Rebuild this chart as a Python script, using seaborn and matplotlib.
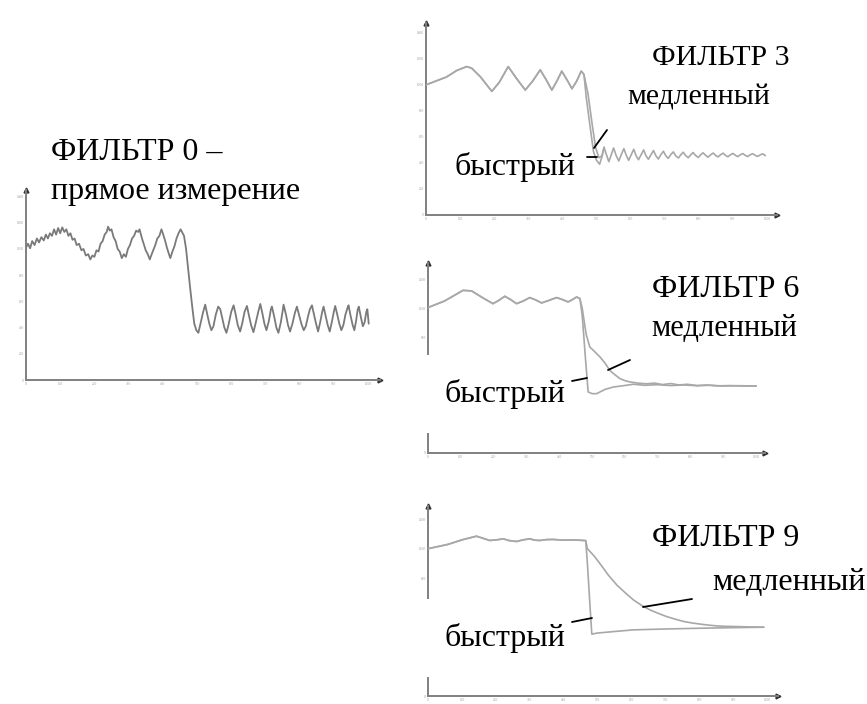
import numpy as np
import pandas as pd
import matplotlib
matplotlib.use("Agg")
import matplotlib.pyplot as plt
from matplotlib.lines import Line2D
import seaborn as sns

# ---- data ----
# filter 0: raw measurement
raw_x = [0, 6, 12, 18, 25, 32, 38, 45, 52, 58, 64, 70, 76, 82, 88, 94, 100, 106, 112, 118,
         124, 130, 136, 142, 148, 155, 162, 168, 175, 182, 188, 194, 200, 206, 212, 218, 224,
         230, 236, 240, 245, 250, 256, 262, 268, 274, 280, 286, 292, 298, 304, 310, 316, 322,
         328, 332, 338, 344, 350, 356, 362, 366, 372, 378, 384, 390, 396, 400, 406, 412, 418,
         422, 428, 434, 440, 446, 452, 456, 462, 468, 474, 480, 486, 492, 498, 504, 512, 518,
         524, 530, 536, 542, 548, 555, 562, 568, 574, 580, 586, 592, 600, 607, 613, 619, 626,
         632, 639, 646, 652, 658, 665, 672, 679, 685, 691, 697, 703, 710, 716, 719, 726, 732,
         738, 745, 750, 753, 760, 766, 772, 779, 786, 792, 798, 805, 812, 818, 825, 830, 836,
         842, 848, 854, 860, 866, 870, 876, 882, 888, 894, 900, 904, 910, 916, 922, 928, 934,
         940, 943, 949, 955, 960, 965, 970, 973, 979, 985, 990, 995, 998, 1002]
raw_y = [1010, 1040, 1005, 1060, 1030, 1080, 1050, 1090, 1065, 1110, 1080, 1120, 1100, 1150,
         1110, 1160, 1120, 1165, 1130, 1150, 1100, 1120, 1070, 1080, 1030, 1040, 990, 1000, 950,
         960, 920, 950, 940, 990, 980, 1040, 1060, 1110, 1130, 1170, 1140, 1150, 1090, 1060,
         1000, 980, 930, 960, 940, 1000, 1030, 1080, 1100, 1140, 1130, 1150, 1090, 1040, 990,
         960, 920, 950, 990, 1030, 1080, 1100, 1150, 1120, 1070, 1010, 960, 930, 980, 1020,
         1080, 1120, 1150, 1130, 1100, 1000, 850, 700, 560, 430, 380, 360, 450, 520, 575, 500,
         430, 380, 410, 500, 560, 540, 470, 400, 360, 420, 520, 570, 500, 420, 370, 430, 520,
         565, 490, 420, 365, 440, 520, 580, 510, 430, 380, 450, 540, 560, 480, 400, 360, 440,
         520, 575, 500, 420, 370, 430, 510, 560, 500, 430, 380, 410, 490, 540, 570, 500, 430,
         370, 440, 520, 560, 490, 420, 370, 440, 520, 565, 500, 430, 380, 420, 500, 550, 570,
         490, 420, 380, 450, 540, 560, 480, 410, 440, 520, 540, 430]

# filter 3
f3_pre_x = [0, 30, 60, 90, 119, 134, 160, 193, 215, 241, 265, 291, 313, 335, 352, 369, 384,
            398, 413, 428, 442, 455, 463]
f3_pre_y = [1000, 1030, 1060, 1110, 1140, 1128, 1060, 950, 1020, 1140, 1050, 960, 1030, 1115,
            1040, 960, 1030, 1105, 1040, 970, 1030, 1105, 1080]
f3_fast_x = [470, 480, 491, 500, 509, 516, 522, 528, 536, 544, 550, 557, 565, 572, 580, 587,
             594, 602, 609, 616, 623, 631, 638, 645, 652, 660, 667, 674, 681, 689, 696, 703,
             710, 718, 725, 732, 740, 747, 754, 761, 769, 776, 783, 790, 798, 805, 812, 820,
             827, 834, 842, 849, 856, 863, 871, 878, 885, 892, 900, 907, 914, 921, 929, 936,
             943, 950, 958, 965, 972, 980, 987, 995]
f3_fast_y = [900, 700, 487, 420, 390, 450, 520, 470, 410, 470, 515, 460, 415, 460, 510, 460,
             420, 465, 505, 455, 425, 465, 500, 455, 428, 465, 495, 455, 430, 465, 490, 455,
             435, 465, 485, 455, 438, 463, 482, 457, 440, 462, 480, 458, 442, 462, 478, 458,
             444, 462, 476, 458, 446, 462, 475, 458, 447, 462, 473, 459, 448, 462, 472, 458,
             449, 462, 471, 458, 450, 462, 470, 456]
f3_slow_x = [475, 487, 497, 507, 516, 522]
f3_slow_y = [930, 700, 520, 440, 455, 520]

# filter 6
f6_pre_x = [0, 50, 107, 133, 165, 198, 216, 234, 252, 270, 290, 310, 328, 346, 369, 392, 410,
            427, 440, 453, 463]
f6_pre_y = [1005, 1050, 1124, 1120, 1075, 1032, 1055, 1083, 1060, 1032, 1050, 1074, 1058, 1037,
            1055, 1074, 1060, 1044, 1060, 1078, 1067]
f6_fast_x = [470, 480, 488, 500, 514, 540, 565, 595, 626, 660, 700, 740, 780, 820, 860, 900,
             950, 1000]
f6_fast_y = [950, 650, 422, 410, 410, 440, 456, 465, 475, 468, 472, 466, 470, 465, 468, 463,
             465, 463]
f6_slow_x = [470, 482, 493, 508, 524, 540, 554, 570, 585, 600, 615, 640, 665, 690, 715, 740,
             765, 790, 820, 850, 880, 920, 960, 1000]
f6_slow_y = [1000, 820, 733, 700, 664, 620, 571, 540, 514, 500, 491, 483, 478, 483, 473, 480,
             470, 475, 466, 470, 464, 466, 463, 463]

# filter 9
f9_pre_x = [0, 60, 100, 143, 182, 202, 222, 240, 261, 280, 300, 315, 330, 350, 369, 400, 430,
            458, 465]
f9_pre_y = [1000, 1030, 1060, 1085, 1056, 1060, 1067, 1055, 1049, 1060, 1067, 1058, 1056, 1062,
            1063, 1058, 1060, 1056, 1055]
f9_fast_x = [470, 478, 483, 498, 550, 606, 700, 800, 900, 990]
f9_fast_y = [900, 600, 420, 427, 438, 449, 455, 460, 464, 467]
f9_slow_x = [470, 490, 507, 532, 557, 582, 606, 630, 655, 680, 704, 730, 754, 778, 803, 828,
             852, 877, 901, 950, 990]
f9_slow_y = [1000, 950, 899, 820, 753, 700, 652, 615, 584, 560, 539, 521, 506, 496, 488, 481,
             476, 473, 472, 469, 467]

x_ticks = list(range(0, 1001, 100))
y_ticks_14 = list(range(0, 1401, 200))
y_ticks_12 = list(range(0, 1201, 200))

sns.set_style("white")
plt.rcParams["font.family"] = ["Liberation Serif", "DejaVu Serif"]

W, H = 867, 704
fig = plt.figure(figsize=(W / 100, H / 100), dpi=100)


def box(l, t, r, b):
    return [l / W, 1 - b / H, (r - l) / W, (b - t) / H]


def setup(ax, xmax, ymax, yticks):
    ax.set_xlim(0, xmax)
    ax.set_ylim(0, ymax)
    ax.set_xticks(x_ticks)
    ax.set_yticks(yticks)
    ax.tick_params(length=0, labelsize=2.5, labelcolor="#9a9a9a", pad=1.5)
    for s in ["top", "right"]:
        ax.spines[s].set_visible(False)
    for s in ["left", "bottom"]:
        ax.spines[s].set_color("#808080")
        ax.spines[s].set_linewidth(1.4)
    ax.plot(1, 0, ">", color="#333333", ms=3.5, transform=ax.get_yaxis_transform(), clip_on=False)
    ax.plot(0, 1, "^", color="#333333", ms=3.5, transform=ax.get_xaxis_transform(), clip_on=False)
    ax.set_xlabel("")
    ax.set_ylabel("")


def curve(ax, xs, ys, color="#a8a8a8", lw=1.2):
    df = pd.DataFrame({"x": xs, "y": ys})
    sns.lineplot(data=df, x="x", y="y", ax=ax, color=color, lw=lw, estimator=None,
                 sort=False, zorder=3)


# panel: filter 0
ax0 = fig.add_axes(box(26, 190, 380, 380))
curve(ax0, raw_x, raw_y, color="#7a7a7a", lw=1.3)
setup(ax0, 1035, 1450, y_ticks_14)

# panel: filter 3
ax3 = fig.add_axes(box(426, 23, 777, 215))
curve(ax3, f3_pre_x + f3_fast_x, f3_pre_y + f3_fast_y)
curve(ax3, f3_pre_x + f3_slow_x, f3_pre_y + f3_slow_y)
setup(ax3, 1029, 1475, y_ticks_14)

# panel: filter 6
ax6 = fig.add_axes(box(428, 263, 765, 453))
curve(ax6, f6_pre_x + f6_fast_x, f6_pre_y + f6_fast_y)
curve(ax6, f6_pre_x + f6_slow_x, f6_pre_y + f6_slow_y)
setup(ax6, 1027, 1313, y_ticks_12)

# panel: filter 9
ax9 = fig.add_axes(box(428, 506, 778, 696))
curve(ax9, f9_pre_x + f9_fast_x, f9_pre_y + f9_fast_y)
curve(ax9, f9_pre_x + f9_slow_x, f9_pre_y + f9_slow_y)
setup(ax9, 1032, 1290, y_ticks_12)

# ---- texts ----


def label(x, y, s, fs, ax=None, white=False):
    kw = dict(fontsize=fs, ha="left", va="center", color="black")
    if white:
        ax.text(x / W, 1 - y / H, s, transform=fig.transFigure, zorder=2.6, clip_on=False,
                bbox=dict(boxstyle="square,pad=0.75", fc="white", ec="none"), **kw)
    else:
        fig.text(x / W, 1 - y / H, s, **kw)


label(51, 153, "ФИЛЬТР 0 –", 23)
label(51, 191, "прямое измерение", 23)
label(652, 58, "ФИЛЬТР 3", 21.5)
label(627, 98, "медленный", 21.5)
label(455, 167, "быстрый", 23)
label(652, 290, "ФИЛЬТР 6", 23)
label(651, 329, "медленный", 22)
label(445, 394, "быстрый", 23, ax=ax6, white=True)
label(652, 538, "ФИЛЬТР 9", 23)
label(712, 583, "медленный", 23)
label(445, 638, "быстрый", 23, ax=ax9, white=True)

# pointer strokes
pointers = [((587, 157), (597, 157)), ((594, 148), (607, 130)),
            ((572, 381), (587, 378)), ((608, 370), (630, 360)),
            ((572, 622), (592, 618)), ((643, 607), (692, 599))]
for (xa, ya), (xb, yb) in pointers:
    fig.add_artist(Line2D([xa / W, xb / W], [1 - ya / H, 1 - yb / H], color="black", lw=1.3,
                          transform=fig.transFigure, zorder=10))

fig.savefig("out.png", dpi=100, facecolor="white")
